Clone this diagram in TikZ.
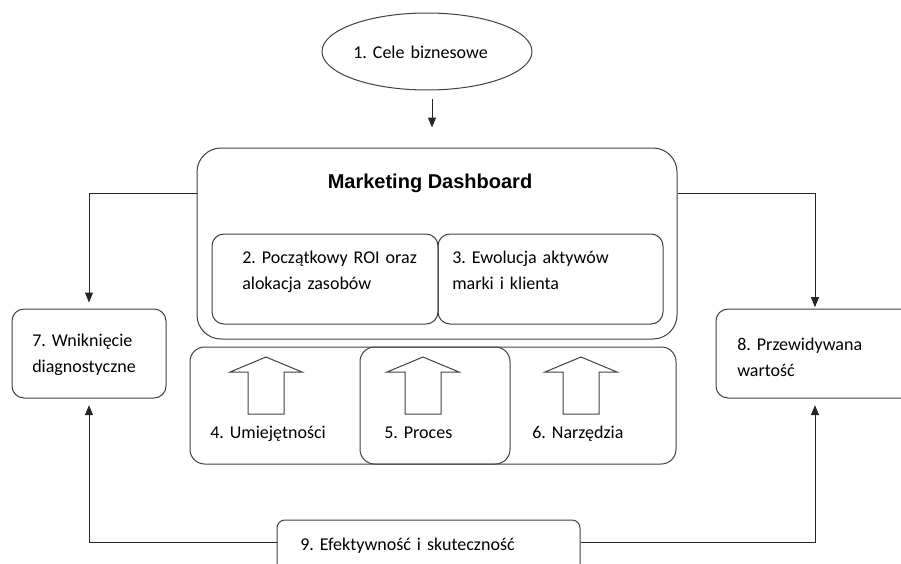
\documentclass[tikz,border=0pt]{standalone}
\usepackage{fontspec}
\setmainfont{Carlito}[WordSpace={0.8,0,0}]
\newfontfamily\arialfont{Liberation Sans}
\usetikzlibrary{arrows.meta,shapes.geometric}
\frenchspacing

\begin{document}
\begin{tikzpicture}[x=0.75pt, y=-0.75pt]
\tikzset{box/.style = {draw=black!75, line width=0.75pt, rounded corners=9pt, inner sep=0pt}}
    \tikzset{txt/.style = {inner sep=0pt, font=\fontsize{13.5}{19.5}\selectfont, text width=220pt, align=left, anchor=base west}}
    \tikzset{edge/.style = {draw=black!85, line width=0.75pt, -{Triangle[width=6pt, length=7.5pt]}}}
    \tikzset{bigarrow/.style = {draw=black!75, line width=0.75pt, line join=miter}}
\useasboundingbox (0,0) rectangle (901,564);
\clip (0,0) rectangle (901,564);

% Define the boxes
\node[box, shape=ellipse, minimum width=157.5pt, minimum height=57.75pt] (1) at (427,51.5){};
\node[box, rounded corners=18pt, minimum width=360pt, minimum height=143.25pt] (D) at (437,243.5){};
\node[box, minimum width=169.5pt, minimum height=67.5pt] (2) at (325,279){};
\node[box, minimum width=168.75pt, minimum height=67.5pt] (3) at (550.5,279){};
\node[box, rounded corners=11pt, minimum width=364.5pt, minimum height=87.75pt] (B) at (433,405.5){};
\node[box, rounded corners=11pt, minimum width=112.5pt, minimum height=87.75pt] (5) at (435,405.5){};
\node[box, minimum width=115.5pt, minimum height=66.75pt] (7) at (89,353.5){};
\node[box, minimum width=148.5pt, minimum height=66.75pt] (8) at (815,353.5){};
\node[box, rounded corners=6pt, minimum width=227.25pt, minimum height=45pt] (9) at (428.5,550){};

% Texts
\node[txt] (t1) at (353,58){1. Cele biznesowe};
\node[inner sep=0pt, anchor=base, font=\arialfont\bfseries\fontsize{15}{18}\selectfont] (tD) at (430,188){Marketing Dashboard};
\node[txt] (t2) at (242,263){2. Początkowy ROI oraz\\alokacja zasobów};
\node[txt] (t3) at (452,263){3. Ewolucja aktywów\\marki i klienta};
\node[txt] (t4) at (210,438){4. Umiejętności};
\node[txt] (t5) at (384,438){5. Proces};
\node[txt] (t6) at (532,438){6. Narzędzia};
\node[txt] (t7) at (32,346){7. Wniknięcie\\diagnostyczne};
\node[txt] (t8) at (737,350){8. Przewidywana\\wartość};
\node[txt] (t9) at (300,550){9. Efektywność i skuteczność};

% Block arrows
\foreach \x in {266,423,581}
    \draw[bigarrow] (\x,357) -- (\x+36,372) -- (\x+18,372) -- (\x+18,414) -- (\x-18,414) -- (\x-18,372) -- (\x-36,372) -- cycle;

% Draw the connectors
\draw[edge, shorten <=6pt, shorten >=15pt] (1.south -| 432,0) -- (D.north -| 432,0);
\draw[edge, shorten >=4.5pt] (D.west |- 0,193) -| (7.north);
\draw[edge, shorten >=1pt] (D.east |- 0,193) -| (8.north);
\draw[edge, shorten >=5pt] (9.west |- 0,542) -| (7.south);
\draw[edge, shorten >=5pt] (9.east |- 0,542) -| (8.south);
\end{tikzpicture}
\end{document}
